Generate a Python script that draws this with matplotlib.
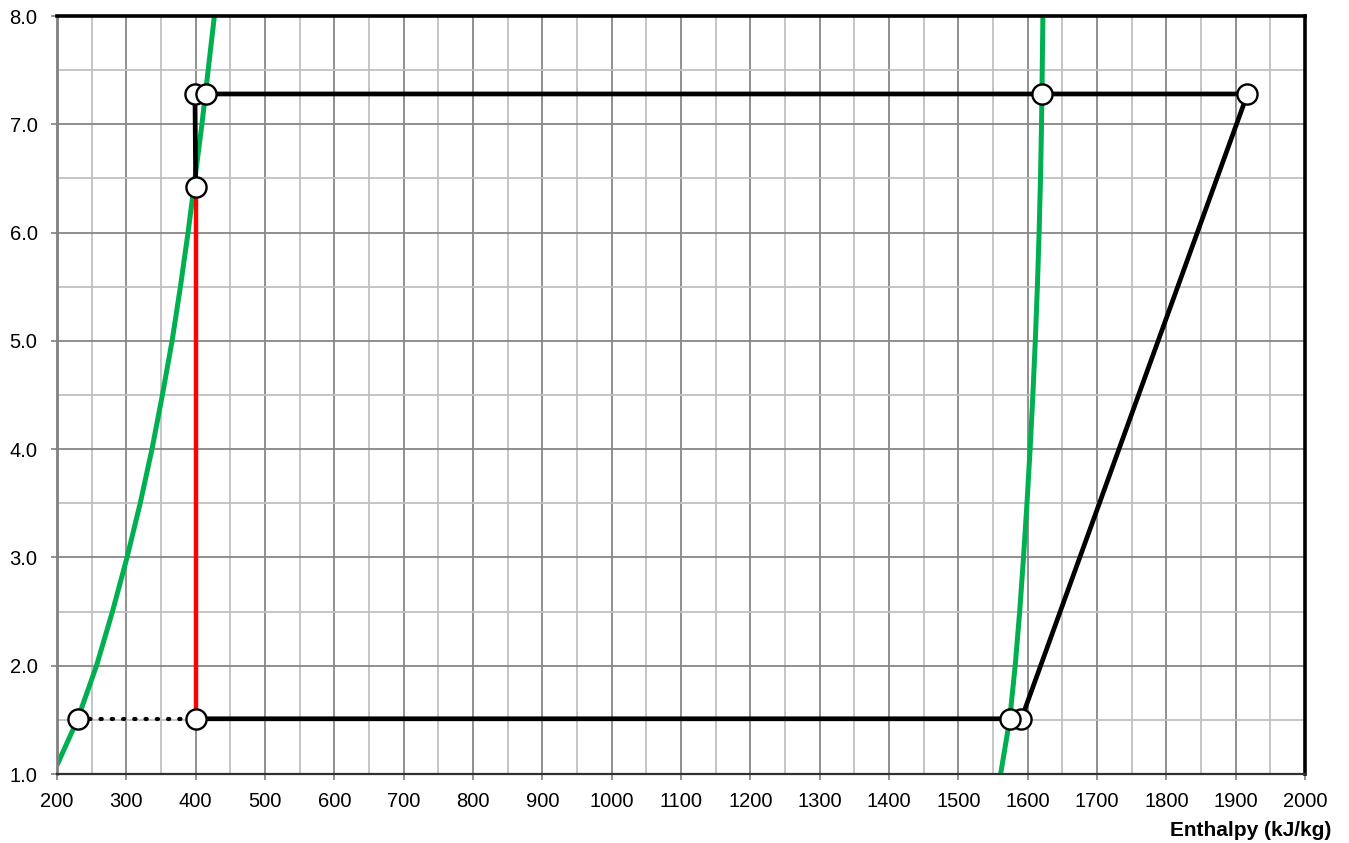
import matplotlib
matplotlib.use('Agg')
import matplotlib.pyplot as plt
from matplotlib.ticker import MultipleLocator, FormatStrFormatter

plt.rcParams['font.family'] = ['Liberation Sans', 'DejaVu Sans']

# Saturated liquid line (pressure, enthalpy)
p_liq = [1.08, 1.51, 2.0, 2.5, 3.0, 3.5, 4.0, 4.5, 5.0, 5.5, 6.0, 6.5, 7.0, 7.5, 8.0]
h_liq = [200, 230, 257, 280, 301, 320, 337, 352, 366, 378, 389, 399, 409, 418, 427]

# Saturated vapour line
p_vap = [1.0, 1.5, 2.0, 2.5, 3.0, 3.5, 4.0, 4.5, 5.0, 5.5, 6.0, 6.5, 7.0, 7.5, 8.0]
h_vap = [1561, 1574, 1582, 1588.5, 1594, 1599, 1603.5, 1607.5, 1611, 1614, 1616.5, 1618.5, 1620, 1621, 1622]

# Cycle path (black)
h_cycle = [400, 1574, 1591, 1917, 399, 400]
p_cycle = [1.51, 1.51, 1.51, 7.28, 7.28, 6.42]

# Expansion (red)
h_exp = [400, 400]
p_exp = [6.42, 1.51]

# Dotted segment
h_dot = [230, 400]
p_dot = [1.51, 1.51]

# State points
h_pts = [230, 400, 1591, 1574, 1917, 1620, 399, 415, 400]
p_pts = [1.51, 1.51, 1.51, 1.51, 7.28, 7.28, 7.28, 7.28, 6.42]

xlabel = 'Enthalpy (kJ/kg)'

fig = plt.figure(figsize=(13.49, 8.43), dpi=100)
ax = fig.add_axes([57/1349, 69/843, (1305-57)/1349, (774-16)/843])

ax.set_xlim(200, 2000)
ax.set_ylim(1.0, 8.0)
ax.xaxis.set_major_locator(MultipleLocator(100))
ax.xaxis.set_minor_locator(MultipleLocator(50))
ax.yaxis.set_major_locator(MultipleLocator(1.0))
ax.yaxis.set_minor_locator(MultipleLocator(0.5))
ax.yaxis.set_major_formatter(FormatStrFormatter('%.1f'))

ax.grid(which='minor', color='#c0c0c0', linewidth=1.3, zorder=0)
ax.grid(which='major', color='#878787', linewidth=1.3, zorder=0)
ax.set_axisbelow(True)

ax.tick_params(which='major', direction='out', length=4, width=1.2, color='#808080',
               labelsize=14.5, pad=10)
ax.tick_params(axis='x', which='major', pad=9)
ax.tick_params(which='minor', length=0)

ax.spines['left'].set_color('#808080')
ax.spines['left'].set_linewidth(2.0)
ax.spines['bottom'].set_color('#303030')
ax.spines['bottom'].set_linewidth(1.6)
ax.spines['top'].set_color('black')
ax.spines['top'].set_linewidth(2.6)
ax.spines['right'].set_color('black')
ax.spines['right'].set_linewidth(2.6)

ax.plot(h_liq, p_liq, color='#00b050', linewidth=3.6, zorder=2, solid_capstyle='butt')
ax.plot(h_vap, p_vap, color='#00b050', linewidth=3.6, zorder=2, solid_capstyle='butt')
ax.plot(h_exp, p_exp, color='#ff0000', linewidth=3.2, zorder=3)
ax.plot(h_cycle, p_cycle, color='black', linewidth=3.4, zorder=4, solid_joinstyle='miter')
ax.plot(h_dot, p_dot, color='black', linewidth=3.0, linestyle=(0, (0.3, 2.4)),
        dash_capstyle='round', zorder=4)

for h, p in zip(h_pts, p_pts):
    ax.plot([h], [p], marker='o', markersize=14.5, markerfacecolor='white',
            markeredgecolor='black', markeredgewidth=1.7, linestyle='none', zorder=5,
            clip_on=False)

fig.text(1331/1349, (843-831)/843, xlabel, ha='right', va='center',
         fontsize=15, fontweight='bold')

fig.savefig('out.png', dpi=100)
